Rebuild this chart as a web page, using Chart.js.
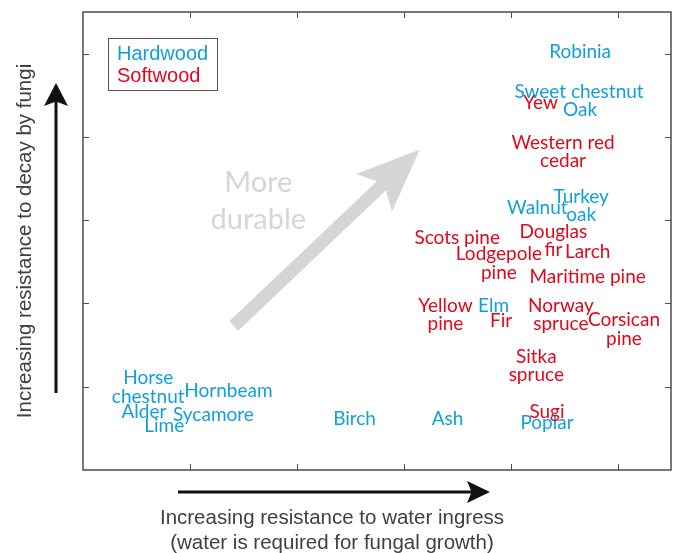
<!DOCTYPE html>
<html>
<head>
<meta charset="utf-8">
<script src="https://cdn.jsdelivr.net/npm/chart.js@4.4.1/dist/chart.umd.min.js"></script>
<style>
  body { margin: 0; background: #fff; }
  #wrap { width: 678px; height: 553px; }
</style>
</head>
<body>
<div id="wrap"><canvas id="woodChart" width="678" height="553"></canvas></div>
<script>
// hardwoods (blue) - x: resistance to water ingress, y: resistance to decay
const hardwoodNames = ['Robinia', 'Sweet chestnut', 'Oak', ['Turkey', 'oak'], 'Walnut', 'Elm',
                       ['Horse', 'chestnut'], 'Hornbeam', 'Alder', 'Sycamore', 'Lime', 'Birch', 'Ash', 'Poplar'];
const hardwoodX = [4.65, 4.64, 4.65, 4.66, 4.25, 3.84, 0.61, 1.36, 0.57, 1.22, 0.76, 2.54, 3.41, 4.34];
const hardwoodY = [5.02, 4.54, 4.33, 3.17, 3.15, 1.97, 0.99, 0.95, 0.70, 0.66, 0.53, 0.61, 0.61, 0.56];

// softwoods (red)
const softwoodNames = ['Yew', ['Western red', 'cedar'], ['Douglas', 'fir'], 'Larch', 'Scots pine',
                       ['Lodgepole', 'pine'], 'Maritime pine', ['Yellow', 'pine'], 'Fir', ['Norway', 'spruce'],
                       ['Corsican', 'pine'], ['Sitka', 'spruce'], 'Sugi'];
const softwoodX = [4.28, 4.49, 4.40, 4.72, 3.50, 3.89, 4.72, 3.39, 3.91, 4.47, 5.06, 4.24, 4.34];
const softwoodY = [4.41, 3.82, 2.75, 2.62, 2.79, 2.48, 2.32, 1.86, 1.79, 1.86, 1.69, 1.25, 0.70];

const tickValues = [1, 2, 3, 4, 5];
const axisMax = 5.5;

// "more durable" arrow, start and tip in data units
const durableArrow = [[1.41, 1.73], [3.15, 3.85]];
const durableText = ['More', 'durable'];

const xTitle = ['Increasing resistance to water ingress', '(water is required for fungal growth)'];
const yTitle = 'Increasing resistance to decay by fungi';

const blue = '#12a0dc';
const red = '#e2071b';
const labelFont = '19px Lato';
const plainFont = '"Liberation Sans", Arial, sans-serif';

function toPoints(xs, ys) {
    return xs.map(function(x, i) { return {x: x, y: ys[i]}; });
}

function drawArrowHead(ctx, x, y, angle, len, half) {
    ctx.save();
    ctx.translate(x, y);
    ctx.rotate(angle);
    ctx.beginPath();
    ctx.moveTo(0, 0);
    ctx.lineTo(-len, -half);
    ctx.lineTo(-len * 0.8, 0);
    ctx.lineTo(-len, half);
    ctx.closePath();
    ctx.fill();
    ctx.restore();
}

const woodPlugin = {
    id: 'woodPlugin',
    beforeDatasetsDraw(chart) {
        const ctx = chart.ctx;
        const xs = chart.scales.x, ys = chart.scales.y;
        const x0 = xs.getPixelForValue(durableArrow[0][0]), y0 = ys.getPixelForValue(durableArrow[0][1]);
        const x1 = xs.getPixelForValue(durableArrow[1][0]), y1 = ys.getPixelForValue(durableArrow[1][1]);
        const ang = Math.atan2(y1 - y0, x1 - x0);
        const len = Math.hypot(x1 - x0, y1 - y0);

        ctx.save();
        ctx.fillStyle = '#d4d6d6';
        ctx.translate(x0, y0);
        ctx.rotate(ang);
        ctx.beginPath();
        ctx.moveTo(0, -6.5);
        ctx.lineTo(len - 53, -6.5);
        ctx.lineTo(len - 63, -26);
        ctx.lineTo(len, 0);
        ctx.lineTo(len - 63, 26);
        ctx.lineTo(len - 53, 6.5);
        ctx.lineTo(0, 6.5);
        ctx.closePath();
        ctx.fill();
        ctx.restore();

        ctx.save();
        ctx.fillStyle = '#d6d6d6';
        ctx.font = '29px Lato';
        ctx.textAlign = 'center';
        ctx.textBaseline = 'middle';
        const tx = xs.getPixelForValue(1.64);
        const ty = ys.getPixelForValue(3.45);
        durableText.forEach(function(line, i) {
            ctx.fillText(line, tx, ty + i * 37);
        });
        ctx.restore();
    },
    afterDatasetsDraw(chart) {
        const ctx = chart.ctx;
        const area = chart.chartArea;
        const xs = chart.scales.x, ys = chart.scales.y;

        // frame and inward ticks
        ctx.save();
        ctx.strokeStyle = '#4d4d4d';
        ctx.lineWidth = 1.5;
        ctx.strokeRect(area.left, area.top, area.right - area.left, area.bottom - area.top);
        ctx.lineWidth = 1;
        ctx.beginPath();
        tickValues.forEach(function(v) {
            const px = Math.round(xs.getPixelForValue(v)) + 0.5;
            ctx.moveTo(px, area.bottom); ctx.lineTo(px, area.bottom - 6);
            ctx.moveTo(px, area.top); ctx.lineTo(px, area.top + 6);
            const py = Math.round(ys.getPixelForValue(v)) + 0.5;
            ctx.moveTo(area.left, py); ctx.lineTo(area.left + 6, py);
            ctx.moveTo(area.right, py); ctx.lineTo(area.right - 6, py);
        });
        ctx.stroke();
        ctx.restore();

        // species names at their points
        ctx.save();
        ctx.font = labelFont;
        ctx.textAlign = 'center';
        ctx.textBaseline = 'middle';
        chart.data.datasets.forEach(function(ds, di) {
            const meta = chart.getDatasetMeta(di);
            ctx.fillStyle = ds.borderColor;
            meta.data.forEach(function(pt, i) {
                const name = ds.names[i];
                const lines = Array.isArray(name) ? name : [name];
                const top = pt.y - (lines.length - 1) * 18.5 / 2;
                lines.forEach(function(line, li) {
                    ctx.fillText(line, pt.x, top + li * 18.5);
                });
            });
        });
        ctx.restore();

        // legend box
        ctx.save();
        ctx.strokeStyle = '#555';
        ctx.lineWidth = 1;
        ctx.strokeRect(108.5, 38.5, 109, 52);
        ctx.font = '20px ' + plainFont;
        ctx.textBaseline = 'middle';
        chart.data.datasets.forEach(function(ds, di) {
            ctx.fillStyle = ds.borderColor;
            ctx.fillText(ds.label, 117, 54 + di * 22);
        });
        ctx.restore();

        // axis arrows
        ctx.save();
        ctx.strokeStyle = '#111';
        ctx.fillStyle = '#111';
        ctx.lineWidth = 3;
        ctx.beginPath();
        ctx.moveTo(56, 393); ctx.lineTo(56, 98);
        ctx.moveTo(178, 492); ctx.lineTo(475, 492);
        ctx.stroke();
        drawArrowHead(ctx, 56, 83, -Math.PI / 2, 23, 12);
        drawArrowHead(ctx, 490, 492, 0, 23, 11);
        ctx.restore();

        // axis titles
        ctx.save();
        ctx.fillStyle = '#404040';
        ctx.font = '20.5px ' + plainFont;
        ctx.textAlign = 'center';
        ctx.textBaseline = 'middle';
        xTitle.forEach(function(line, i) {
            ctx.fillText(line, 332, 518 + i * 25);
        });
        ctx.translate(25, 241);
        ctx.rotate(-Math.PI / 2);
        ctx.fillText(yTitle, 0, 0);
        ctx.restore();
    }
};

new Chart(document.getElementById('woodChart'), {
    type: 'scatter',
    data: {
        datasets: [{
            label: 'Hardwood',
            names: hardwoodNames,
            data: toPoints(hardwoodX, hardwoodY),
            borderColor: blue,
            backgroundColor: blue,
            pointRadius: 0
        }, {
            label: 'Softwood',
            names: softwoodNames,
            data: toPoints(softwoodX, softwoodY),
            borderColor: red,
            backgroundColor: red,
            pointRadius: 0
        }]
    },
    options: {
        responsive: false,
        animation: false,
        layout: {
            padding: {left: 83, top: 12, right: 7, bottom: 83}
        },
        scales: {
            x: {type: 'linear', min: 0, max: axisMax, display: false},
            y: {type: 'linear', min: 0, max: axisMax, display: false}
        },
        plugins: {
            legend: {display: false},
            tooltip: {enabled: false}
        }
    },
    plugins: [woodPlugin]
});
</script>
</body>
</html>
